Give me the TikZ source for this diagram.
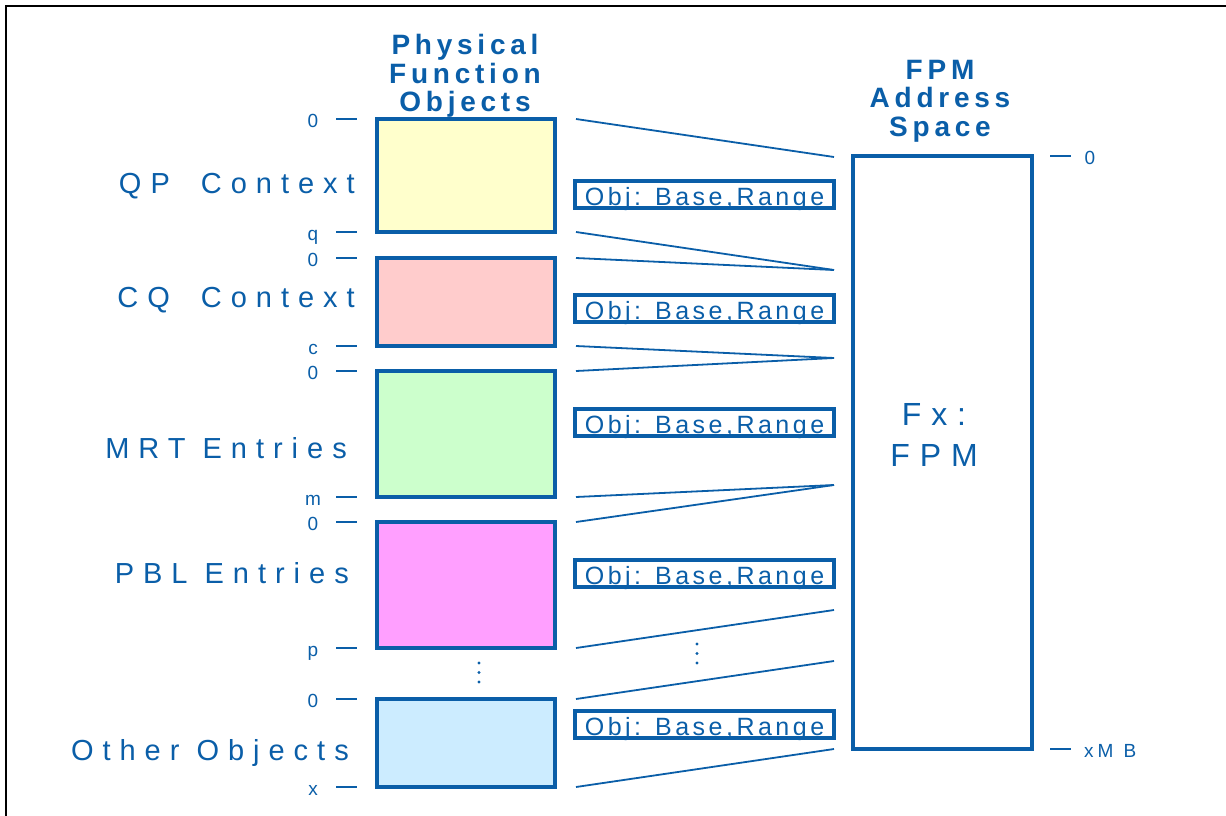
\documentclass[tikz,border=0pt]{standalone}
\usepackage{fontspec}
\setmainfont{Liberation Sans}
\newfontfamily\lblf[LetterSpace=31]{Liberation Sans}
\newfontfamily\hdf[LetterSpace=17]{Liberation Sans}
\newfontfamily\objf[LetterSpace=14]{Liberation Sans}
\usetikzlibrary{calc}
\definecolor{ib}{HTML}{0A5EA8}
\definecolor{qpc}{HTML}{FFFFCC}
\definecolor{cqc}{HTML}{FFCCCC}
\definecolor{mrc}{HTML}{CCFFCC}
\definecolor{pbc}{HTML}{FF9FFF}
\definecolor{otc}{HTML}{CCECFF}
\tikzset{
  objbox/.style={draw=ib, line width=3.2pt, anchor=north west, minimum width=178pt, inner sep=0pt, outer sep=0pt},
  fpmbox/.style={draw=ib, line width=3.2pt, anchor=north west, minimum width=179pt, minimum height=593pt, inner sep=0pt, outer sep=0pt},
  rangebox/.style={draw=ib, line width=3.2pt, anchor=north west, minimum width=259pt, minimum height=27pt, inner sep=0pt, outer sep=0pt, text height=24pt, text depth=3pt, text=ib, font=\objf\fontsize{25}{25}\selectfont},
  biglbl/.style={anchor=base east, inner sep=0pt, text=ib, font=\lblf\fontsize{29}{29}\selectfont},
  head/.style={anchor=base, inner sep=0pt, align=center, text=ib, font=\hdf\bfseries\fontsize{28}{28.5}\selectfont},
  ticklbl/.style={anchor=base, inner sep=0pt, text=ib, font=\fontsize{19}{19}\selectfont},
  tickln/.style={draw=ib, line width=2pt},
  conn/.style={draw=ib, line width=1.8pt},
  vdot/.style={fill=ib, circle, inner sep=0pt, minimum size=3.4pt},
}
\begin{document}
\begin{tikzpicture}[x=1pt,y=-1pt]
\useasboundingbox (0,0) rectangle (1226,816);
\draw[line width=2pt, black] (6,817) -- (6,6) -- (1227,6);

% headings (anchor base = last line)
\node[head] (hpf) at (465,111.5) {Physical\\Function\\Objects};
\node[head] (hfpm) at (940,136) {FPM\\Address\\Space};

% left object boxes
\node[objbox, fill=qpc, minimum height=113pt] (qp) at (377,119) {};
\node[objbox, fill=cqc, minimum height=88pt] (cq) at (377,258) {};
\node[objbox, fill=mrc, minimum height=126pt] (mr) at (377,371) {};
\node[objbox, fill=pbc, minimum height=126pt] (pb) at (377,522) {};
\node[objbox, fill=otc, minimum height=88pt] (ot) at (377,699) {};

% left labels
\node[biglbl] (lqp) at (355,193) {QP\kern14pt{} Context};
\node[biglbl] (lcq) at (355,307.5) {CQ\kern14pt{} Context};
\node[biglbl] (lmr) at (347,458) {MRT Entries};
\node[biglbl] (lpb) at (349,583) {PBL Entries};
\node[biglbl] (lot) at (349,760) {Other Objects};

% ticks and tick labels (left)
\foreach \y/\t [count=\i] in {119/0,232/q,258/0,346/c,371/0,497/m,522/0,648/p,699/0,787/x}{
  \draw[tickln] (336,\y) -- (357,\y);
  \node[ticklbl] (tl\i) at (313,\y+8) {\t};
}

% FPM box
\node[fpmbox] (fpm) at (853,156) {};
\node[anchor=base, align=center, inner sep=0pt, text=ib, font=\lblf\fontsize{32}{41}\selectfont] (fx) at (934,466) {Fx:\\FPM};
\draw[tickln] (1050,156) -- (1071,156);
\node[ticklbl] (tr0) at (1090,164) {0};
\draw[tickln] (1050,749) -- (1071,749);
\node[ticklbl, anchor=base west] (trx) at (1084,757) {x\kern4pt M\kern10pt B};

% range boxes
\node[rangebox] (rb1) at (575,181) {Obj: Base,Range};
\node[rangebox] (rb2) at (575,295) {Obj: Base,Range};
\node[rangebox] (rb3) at (575,409) {Obj: Base,Range};
\node[rangebox] (rb4) at (575,560) {Obj: Base,Range};
\node[rangebox] (rb5) at (575,711) {Obj: Base,Range};

% connector end points
\coordinate (r0) at (834,157);
\coordinate (r1) at (834,270);
\coordinate (r2) at (834,358);
\coordinate (r3) at (834,485);
\coordinate (r4) at (834,610);
\coordinate (r5) at (834,661);
\coordinate (r6) at (834,749);

\coordinate (a1) at ($(qp.north east)+(21,0)$);
\coordinate (a2) at ($(qp.south east)+(21,0)$);
\coordinate (a3) at ($(cq.north east)+(21,0)$);
\coordinate (a4) at ($(cq.south east)+(21,0)$);
\coordinate (a5) at ($(mr.north east)+(21,0)$);
\coordinate (a6) at ($(mr.south east)+(21,0)$);
\coordinate (a7) at ($(pb.north east)+(21,0)$);
\coordinate (a8) at ($(pb.south east)+(21,0)$);
\coordinate (a9) at ($(ot.north east)+(21,0)$);
\coordinate (a10) at ($(ot.south east)+(21,0)$);

\draw[conn] (a1) -- (r0);
\draw[conn] (a2) -- (r1);
\draw[conn] (a3) -- (r1);
\draw[conn] (a4) -- (r2);
\draw[conn] (a5) -- (r2);
\draw[conn] (a6) -- (r3);
\draw[conn] (a7) -- (r3);
\draw[conn] (a8) -- (r4);
\draw[conn] (a9) -- (r5);
\draw[conn] (a10) -- (r6);

% vertical ellipses
\node[vdot] (dl1) at (479,663) {};
\node[vdot] (dl2) at (479,672.5) {};
\node[vdot] (dl3) at (479,682) {};
\node[vdot] (dr1) at (697,644) {};
\node[vdot] (dr2) at (697,653.5) {};
\node[vdot] (dr3) at (697,663) {};
\end{tikzpicture}
\end{document}
